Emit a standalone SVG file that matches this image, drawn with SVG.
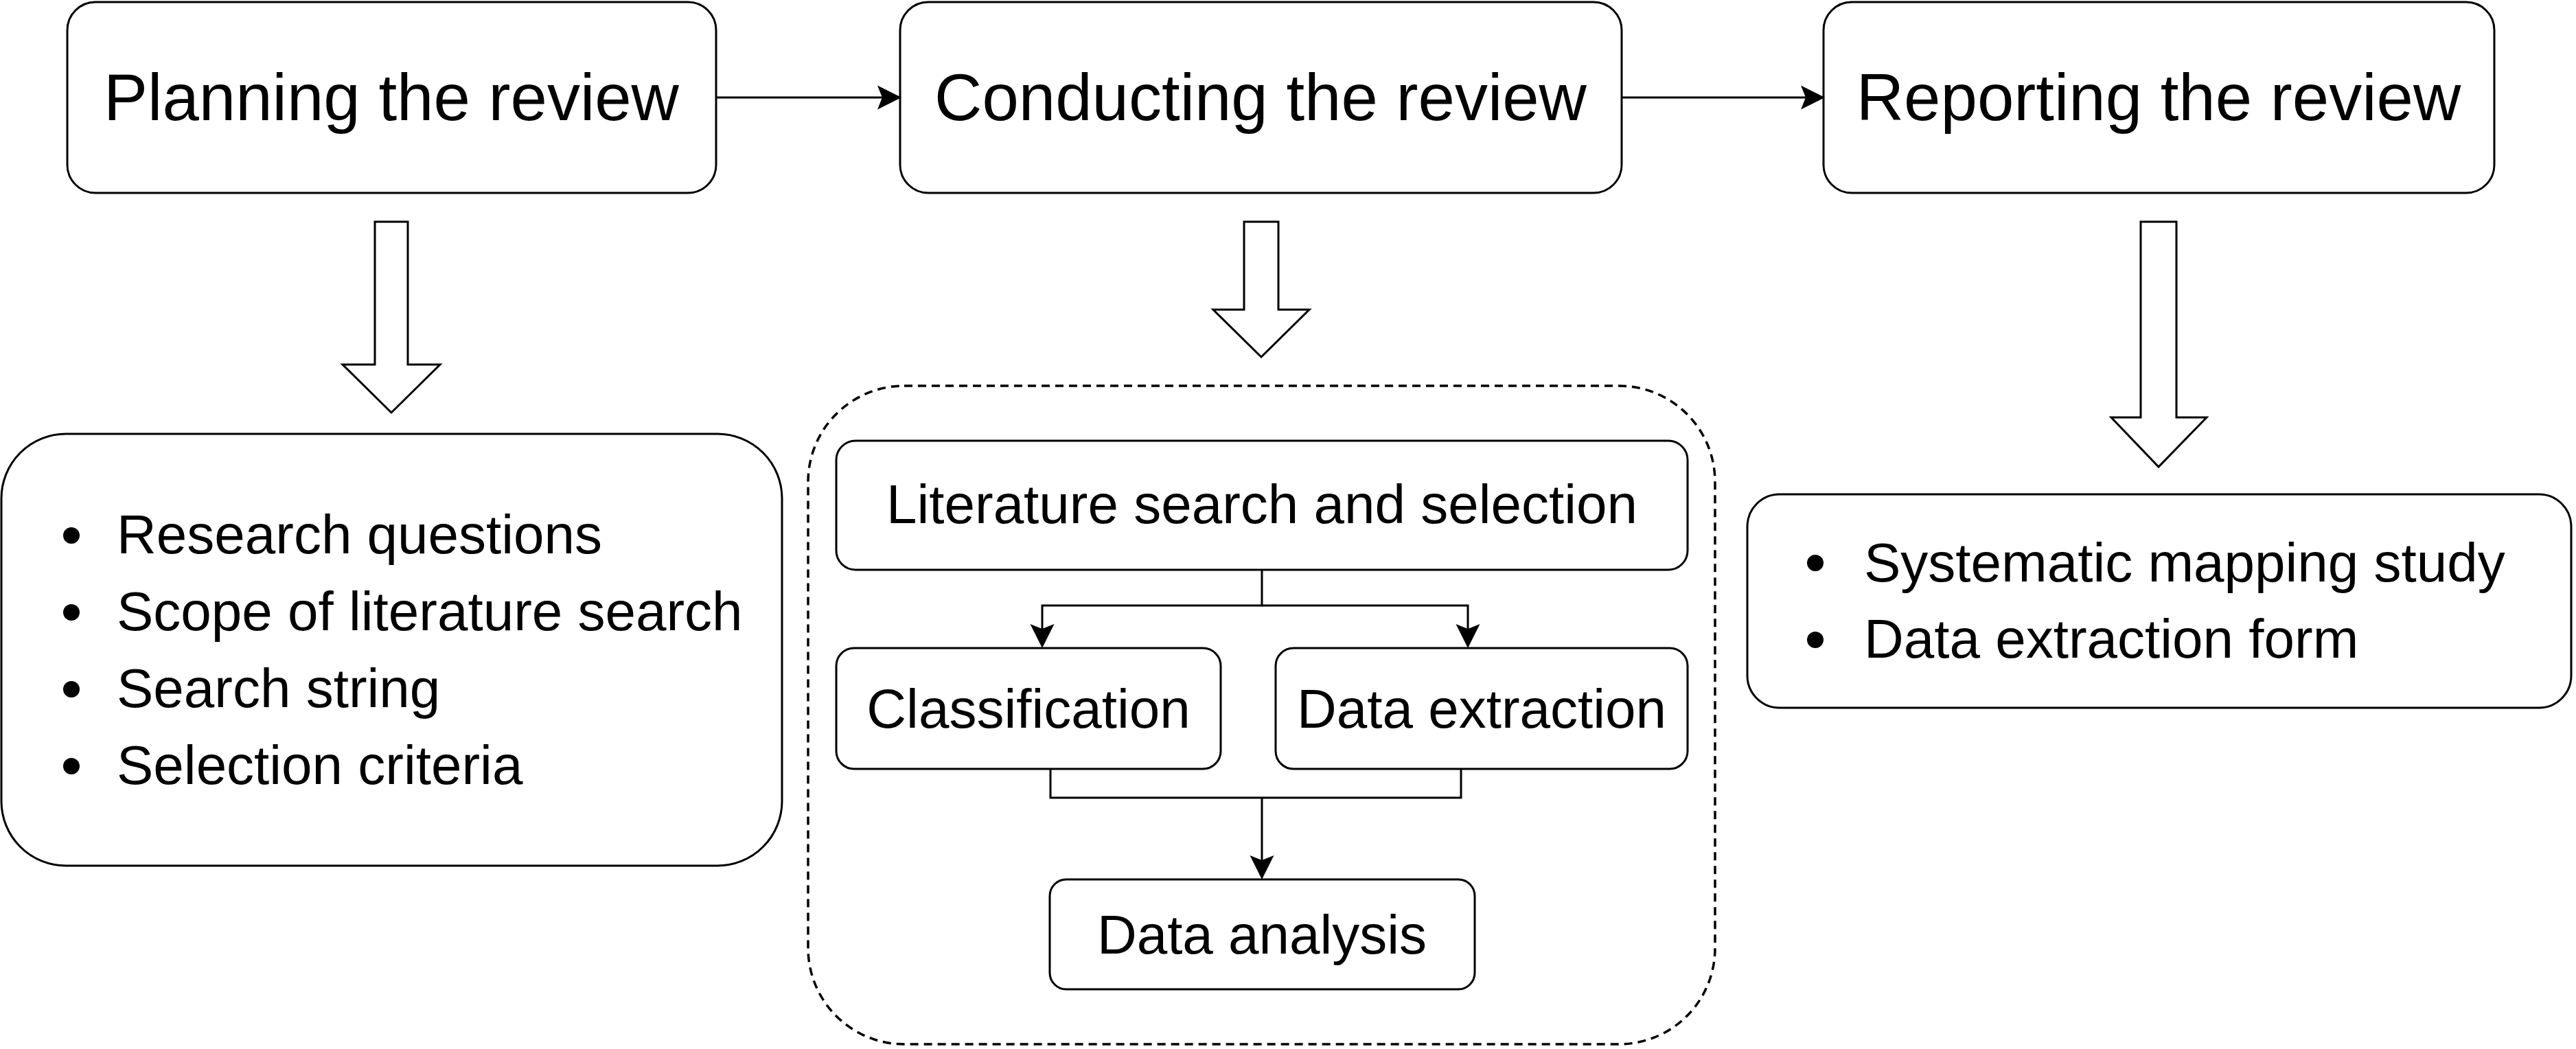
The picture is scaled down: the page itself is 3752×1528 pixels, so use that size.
<svg xmlns="http://www.w3.org/2000/svg" width="3752" height="1528" viewBox="0 0 3752 1528">
<style>
.box{fill:#ffffff;stroke:#000000;stroke-width:3}
.dash{fill:#ffffff;stroke:#000000;stroke-width:3.5;stroke-dasharray:12 8}
.big{font-family:"Liberation Sans",Arial,Helvetica,sans-serif;font-size:96px;fill:#000000;text-anchor:middle}
.t{font-family:"Liberation Sans",Arial,Helvetica,sans-serif;font-size:80px;fill:#000000}
.c{text-anchor:middle}
.edge{fill:none;stroke:#000000;stroke-width:3}
.arrow{marker-end:url(#head)}
.block{fill:#ffffff;stroke:#000000;stroke-width:3;stroke-linejoin:miter}
</style>
<defs>
<marker id="head" markerUnits="userSpaceOnUse" viewBox="-36 -19 48 38" markerWidth="48" markerHeight="38" refX="-8" refY="0" orient="auto">
<path d="M0,0 L-35,-17.5 L-28,0 L-35,17.5 Z" fill="#000000"/>
</marker>
</defs>
<g id="planning">
<rect class="box" x="98" y="3" width="945" height="278" rx="41" ry="41"/>
<text class="big" x="570" y="175">Planning the review</text>
</g>
<g id="conducting">
<rect class="box" x="1311" y="3" width="1051" height="278" rx="41" ry="41"/>
<text class="big" x="1836" y="175">Conducting the review</text>
</g>
<g id="reporting">
<rect class="box" x="2656" y="3" width="977" height="278" rx="41" ry="41"/>
<text class="big" x="3144" y="175">Reporting the review</text>
</g>
<g id="planning-arrow">
<polygon class="block" points="546,323 594,323 594,531 641,531 570,601 499,531 546,531"/>
</g>
<g id="conducting-arrow">
<polygon class="block" points="1812,323 1862,323 1862,451 1907,451 1837,520 1767,451 1812,451"/>
</g>
<g id="reporting-arrow">
<polygon class="block" points="3118,323 3170,323 3170,608 3214,608 3144,680 3075,608 3118,608"/>
</g>
<g id="planning-items">
<rect class="box" x="2" y="632" width="1137" height="629" rx="94" ry="94"/>
<circle cx="104" cy="780" r="12"/>
<circle cx="104" cy="892" r="12"/>
<circle cx="104" cy="1004" r="12"/>
<circle cx="104" cy="1116" r="12"/>
<text class="t" x="170" y="806">Research questions</text>
<text class="t" x="170" y="918">Scope of literature search</text>
<text class="t" x="170" y="1030">Search string</text>
<text class="t" x="170" y="1142">Selection criteria</text>
</g>
<g id="conducting-container">
<rect class="dash" x="1177" y="562" width="1321" height="959" rx="140" ry="140"/>
</g>
<g id="literature">
<rect class="box" x="1218" y="642" width="1240" height="188" rx="28" ry="28"/>
<text class="t c" x="1838" y="762">Literature search and selection</text>
</g>
<g id="classification">
<rect class="box" x="1218" y="944" width="560" height="176" rx="26" ry="26"/>
<text class="t c" x="1498" y="1060">Classification</text>
</g>
<g id="extraction">
<rect class="box" x="1858" y="944" width="600" height="176" rx="26" ry="26"/>
<text class="t c" x="2158" y="1060">Data extraction</text>
</g>
<g id="analysis">
<rect class="box" x="1529" y="1281" width="619" height="160" rx="24" ry="24"/>
<text class="t c" x="1838" y="1389">Data analysis</text>
</g>
<g id="reporting-items">
<rect class="box" x="2545" y="720" width="1200" height="311" rx="47" ry="47"/>
<circle cx="2644" cy="820" r="12"/>
<circle cx="2644" cy="932" r="12"/>
<text class="t" x="2715" y="847">Systematic mapping study</text>
<text class="t" x="2715" y="958">Data extraction form</text>
</g>
<g id="connectors">
<path class="edge arrow" d="M1043,142 H1305"/>
<path class="edge arrow" d="M2362,142 H2650"/>
<path class="edge arrow" d="M1838,830 V882 H1518 V936"/>
<path class="edge arrow" d="M1838,882 H2138 V936"/>
<path class="edge" d="M1530,1120 V1162 H2128 V1120"/>
<path class="edge arrow" d="M1838,1162 V1273"/>
</g>
</svg>
